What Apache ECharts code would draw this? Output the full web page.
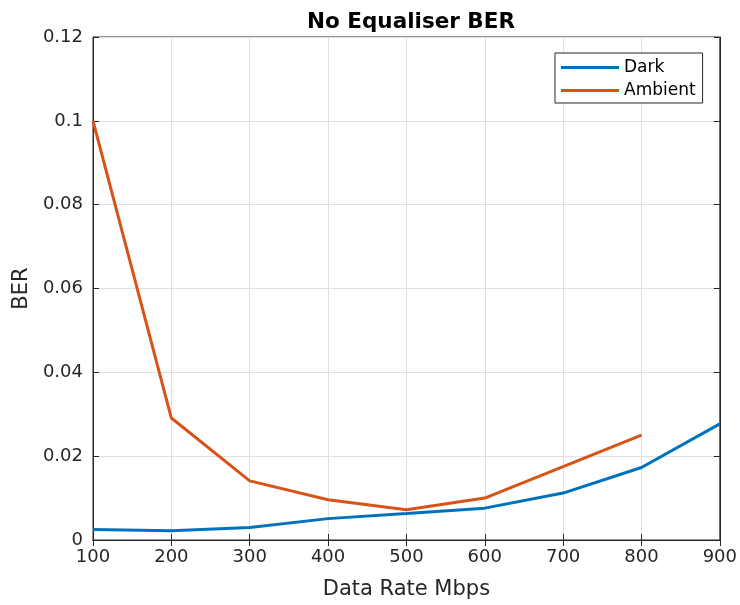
<!DOCTYPE html>
<html>
<head>
<meta charset="utf-8">
<script src="https://cdn.jsdelivr.net/npm/echarts@6/dist/echarts.min.js"></script>
<style>
  html, body { margin: 0; padding: 0; background: #fff; }
  #chart { width: 740px; height: 605px; }
</style>
</head>
<body>
<div id="chart"></div>
<script>
// data
var rates = [100, 200, 300, 400, 500, 600, 700, 800, 900]
var darkBer = [0.0025, 0.0022, 0.0030, 0.0051, 0.0063, 0.0076, 0.0112, 0.0173, 0.0277]
var ambientBer = [0.1, 0.0291, 0.0141, 0.0096, 0.0072, 0.0100, 0.0175, 0.0250]

var font = 'DejaVu Sans'
var axisCol = '#262626'

function pairs(xs, ys) {
  return ys.map(function (v, i) { return [xs[i], v] })
}

var chart = echarts.init(document.getElementById('chart'))
chart.setOption({
  animation: false,
  textStyle: { fontFamily: font },
  title: {
    text: 'No Equaliser BER',
    left: 406, top: 6, textAlign: 'center',
    textStyle: { fontFamily: font, fontSize: 21.5, fontWeight: 'bold', color: '#000' }
  },
  legend: {
    orient: 'vertical',
    left: 555, top: 53,
    padding: [6, 7, 4, 6],
    itemGap: 6,
    itemWidth: 58, itemHeight: 3,
    borderColor: axisCol, borderWidth: 1,
    backgroundColor: '#fff',
    textStyle: { fontFamily: font, fontSize: 17, color: '#000' },
    data: [{ name: 'Dark', icon: 'rect' }, { name: 'Ambient', icon: 'rect' }]
  },
  grid: { left: 93, right: 20, top: 37, bottom: 62, show: true, borderColor: axisCol, borderWidth: 1 },
  xAxis: [{
    type: 'value', min: 100, max: 900, interval: 100,
    name: 'Data Rate Mbps', nameLocation: 'middle', nameGap: 39,
    nameTextStyle: { fontFamily: font, fontSize: 21, color: axisCol },
    axisLine: { lineStyle: { color: axisCol } },
    axisTick: { inside: true, length: 6, lineStyle: { color: axisCol } },
    axisLabel: { fontFamily: font, fontSize: 18, color: axisCol, margin: 8 },
    splitLine: { lineStyle: { color: '#e0e0e0' } }
  }, {
    type: 'value', position: 'top', min: 100, max: 900, interval: 100,
    axisLine: { show: true, lineStyle: { color: axisCol } },
    axisTick: { inside: true, length: 6, lineStyle: { color: axisCol } },
    axisLabel: { show: false }, splitLine: { show: false }
  }],
  yAxis: [{
    type: 'value', min: 0, max: 0.12, interval: 0.02,
    name: 'BER', nameLocation: 'middle', nameGap: 60,
    nameTextStyle: { fontFamily: font, fontSize: 21, color: axisCol },
    axisLine: { show: true, lineStyle: { color: axisCol } },
    axisTick: { show: true, inside: true, length: 6, lineStyle: { color: axisCol } },
    axisLabel: {
      fontFamily: font, fontSize: 18, color: axisCol, margin: 10,
      formatter: function (v) { return v === 0 ? '0' : String(+v.toFixed(2)) }
    },
    splitLine: { lineStyle: { color: '#e0e0e0' } }
  }, {
    type: 'value', position: 'right', min: 0, max: 0.12, interval: 0.02,
    axisLine: { show: true, lineStyle: { color: axisCol } },
    axisTick: { show: true, inside: true, length: 6, lineStyle: { color: axisCol } },
    axisLabel: { show: false }, splitLine: { show: false }
  }],
  series: [{
    name: 'Dark', type: 'line', showSymbol: false, symbol: 'none',
    color: '#0072BD', lineStyle: { width: 3, color: '#0072BD' },
    data: pairs(rates, darkBer)
  }, {
    name: 'Ambient', type: 'line', showSymbol: false, symbol: 'none',
    color: '#D95319', lineStyle: { width: 3, color: '#D95319' },
    data: pairs(rates, ambientBer)
  }]
})
</script>
</body>
</html>
